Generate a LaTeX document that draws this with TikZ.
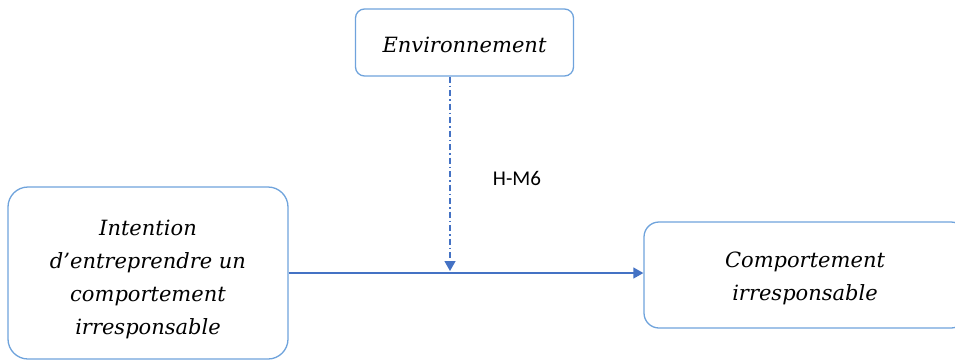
\documentclass[tikz,border=0pt]{standalone}
\usepackage{fontspec}
\setmainfont{DejaVu Serif}
\newfontfamily\labelfont{Carlito}
\usetikzlibrary{arrows.meta}
\definecolor{boxblue}{HTML}{6FA3DC}
\definecolor{linkblue}{HTML}{4472C4}
\begin{document}
\begin{tikzpicture}[x=1pt,y=-1pt,
	varbox/.style={draw=boxblue, line width=1.3pt, align=center, inner sep=0pt,
		font=\fontsize{21}{33}\selectfont\itshape},
	link/.style={draw=linkblue, line width=1.3pt, -{Triangle[length=10pt,width=11pt]}}]
	\useasboundingbox (0,0) rectangle (955,360);
	\node[varbox, rounded corners=9pt, minimum width=218pt, minimum height=67pt] (env) at (464.5,42.5)
		{\rule{0pt}{20pt}Environnement};
	\node[varbox, rounded corners=20pt, minimum width=280pt, minimum height=172pt] (intent) at (148,273)
		{\rule{0pt}{28pt}Intention\\d’entreprendre un\\comportement\\irresponsable};
	\node[varbox, rounded corners=15pt, minimum width=322pt, minimum height=106pt] (behav) at (805,275)
		{\rule{0pt}{22pt}Comportement\\irresponsable};
	\coordinate (mod) at (450,271);
	\draw[link] (intent.east) -- (intent.east -| behav.west);
	\draw[link, dash pattern=on 6pt off 3pt on 1.5pt off 3pt] (env.south -| mod) -- (mod);
	\node[font=\labelfont\fontsize{21}{24}\selectfont] (hm6) at (517,178) {H-M6};
\end{tikzpicture}
\end{document}
